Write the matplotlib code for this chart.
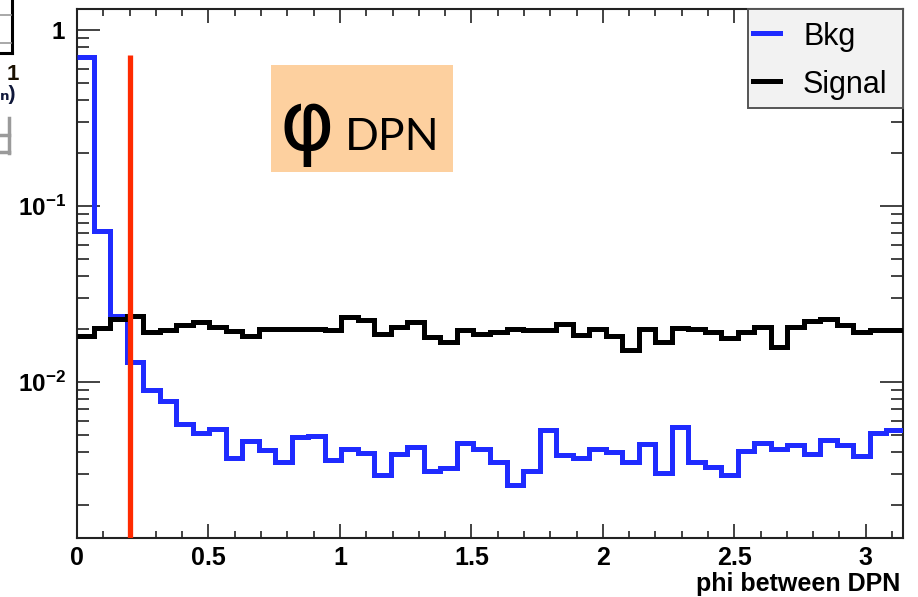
import numpy as np
import matplotlib
matplotlib.use("Agg")
import matplotlib.pyplot as plt
from matplotlib.patches import Rectangle
from matplotlib.lines import Line2D
from matplotlib.ticker import FixedLocator, FixedFormatter, MultipleLocator, LogLocator, NullFormatter

# ---------------- data ----------------
n_bins = 50
x_min, x_max = 0.0, np.pi
bkg = [0.70, 0.072, 0.0236, 0.0129, 0.00893, 0.00773, 0.00577, 0.0051, 0.0054, 0.00368,
       0.0046, 0.00407, 0.00349, 0.00485, 0.00494, 0.00357, 0.00416, 0.00393, 0.00293, 0.00386,
       0.00425, 0.0031, 0.00324, 0.00445, 0.00416, 0.00349, 0.00257, 0.0031, 0.00529, 0.00381,
       0.0037, 0.00416, 0.00398, 0.00349, 0.0044, 0.00302, 0.00552, 0.00349, 0.00327, 0.00293,
       0.00403, 0.00448, 0.00416, 0.00434, 0.00386, 0.00468, 0.00434, 0.00376, 0.0051, 0.00534]
signal = [0.0181, 0.0202, 0.0228, 0.0238, 0.0192, 0.0198, 0.0210, 0.0218, 0.0205, 0.0194,
          0.0181, 0.0199, 0.0199, 0.0199, 0.0199, 0.0197, 0.0233, 0.0225, 0.0188, 0.0205,
          0.0218, 0.0179, 0.0168, 0.0196, 0.0188, 0.0192, 0.0199, 0.0197, 0.0197, 0.0212,
          0.0184, 0.0199, 0.0181, 0.0151, 0.0199, 0.0168, 0.0202, 0.0199, 0.0192, 0.0178,
          0.0192, 0.0205, 0.0158, 0.0205, 0.0221, 0.0228, 0.0210, 0.0192, 0.0197, 0.0197]
cut_value = 0.2
cut_top = 0.72
y_min, y_max = 0.00129, 1.32
xtick_vals = [0, 0.5, 1, 1.5, 2, 2.5, 3]
xtick_labels = ["0", "0.5", "1", "1.5", "2", "2.5", "3"]
ytick_vals = [1e-2, 1e-1, 1]
ytick_labels = [r"$10^{-2}$", r"$10^{-1}$", r"$1$"]
legend_labels = ["Bkg", "Signal"]
x_title = "phi between DPN"

# ---------------- style ----------------
plt.rcParams['mathtext.fontset'] = 'custom'
plt.rcParams['mathtext.rm'] = 'Liberation Sans:bold'
plt.rcParams['mathtext.it'] = 'Liberation Sans:bold'
plt.rcParams['mathtext.bf'] = 'Liberation Sans:bold'
plt.rcParams['font.family'] = ['Liberation Sans', 'DejaVu Sans']

W, H = 918, 597
fig = plt.figure(figsize=(W / 100, H / 100), dpi=100)

def fx(x):
    return x / W

def fy(y):
    return 1 - y / H

ax_l, ax_r, ax_t, ax_b = 77, 903, 9, 538
ax = fig.add_axes([fx(ax_l), fy(ax_b), fx(ax_r - ax_l), (ax_b - ax_t) / H])

blue = '#1f2bff'
red = '#ff2a00'
edges = np.linspace(x_min, x_max, n_bins + 1)

ax.stairs(bkg, edges, baseline=None, color=blue, lw=3.6, zorder=3)
ax.stairs(signal, edges, baseline=None, color='black', lw=3.6, zorder=3)
ax.vlines(cut_value, y_min, cut_top, color=red, lw=3.8, zorder=4)

ax.set_yscale('log')
ax.set_xlim(x_min, x_max)
ax.set_ylim(y_min, y_max)

ax.xaxis.set_major_locator(FixedLocator(xtick_vals))
ax.xaxis.set_major_formatter(FixedFormatter(xtick_labels))
ax.xaxis.set_minor_locator(MultipleLocator(0.1))
ax.yaxis.set_major_locator(FixedLocator(ytick_vals))
ax.yaxis.set_major_formatter(FixedFormatter(ytick_labels))
ax.yaxis.set_minor_locator(LogLocator(base=10, subs=np.arange(2, 10)))
ax.yaxis.set_minor_formatter(NullFormatter())

ax.tick_params(axis='x', which='major', direction='in', top=True, bottom=True,
               length=10, width=1.2, pad=6, labelsize=18, colors='#222222')
ax.tick_params(axis='x', which='minor', direction='in', top=True, bottom=True,
               length=5, width=1.2, colors='#222222')
ax.tick_params(axis='y', which='major', direction='in', left=True, right=True,
               length=16.5, width=1.2, pad=8, labelsize=17.5, colors='#222222')
ax.tick_params(axis='y', which='minor', direction='in', left=True, right=True,
               length=8.5, width=1.2, colors='#222222')
for lab in ax.get_xticklabels() + ax.get_yticklabels():
    lab.set_fontweight('bold')
    lab.set_color('black')

for s in ax.spines.values():
    s.set_linewidth(1.5)
    s.set_color('#222222')

ax.set_xlabel(x_title, loc='right', fontsize=18, fontweight='bold', labelpad=1)
ax.xaxis.label.set_x(0.997)

# ---------------- legend (ROOT-style box) ----------------
lx0, lx1, ly0, ly1 = 748, 903, 9, 108
fig.patches.append(Rectangle((fx(lx0), fy(ly1)), fx(lx1 - lx0), (ly1 - ly0) / H,
                             transform=fig.transFigure, facecolor='#f2f2f2',
                             edgecolor='#555555', lw=1.4, zorder=5))
for lbl, col, ybase, yline in [(legend_labels[0], blue, 45, 33),
                               (legend_labels[1], 'black', 93, 81)]:
    fig.lines.append(Line2D([fx(753), fx(780)], [fy(yline), fy(yline)],
                            transform=fig.transFigure, color=col, lw=3.6, zorder=6))
    fig.text(fx(803), fy(ybase), lbl, fontsize=22, va='baseline', ha='left',
             color='black', zorder=6)

# ---------------- phi_DPN annotation ----------------
fig.patches.append(Rectangle((fx(271), fy(172)), fx(182), 107 / H,
                             transform=fig.transFigure, facecolor='#fdd09f',
                             edgecolor='none', zorder=5))
fig.text(fx(279), fy(150), "\u03c6", fontsize=60, family=['DejaVu Sans'],
         va='baseline', ha='left', color='black', zorder=6)
fig.text(fx(345), fy(150), "DPN", fontsize=32, family=['Lato', 'DejaVu Sans'],
         va='baseline', ha='left', color='black', zorder=6)

# ---------------- fragments of neighbouring slide content ----------------
fig.lines.append(Line2D([fx(0), fx(12)], [fy(53), fy(53)], transform=fig.transFigure,
                        color='black', lw=2.2))
fig.lines.append(Line2D([fx(12), fx(12)], [fy(0), fy(53)], transform=fig.transFigure,
                        color='black', lw=2.2))
fig.lines.append(Line2D([fx(0), fx(11)], [fy(15), fy(15)], transform=fig.transFigure,
                        color='#999999', lw=1.2))
fig.lines.append(Line2D([fx(0), fx(11)], [fy(43), fy(43)], transform=fig.transFigure,
                        color='#999999', lw=1.2))
fig.text(fx(7), fy(80), "1", fontsize=16, fontweight='bold', color='#1a1000',
         va='baseline', ha='left')
fig.text(fx(0), fy(100), "\u2099)", fontsize=15, fontweight='bold', color='#10183a',
         va='baseline', ha='left')
for xs, ys in [([9, 9], [118, 153]), ([0, 9], [135, 135]), ([0, 9], [152, 152])]:
    fig.lines.append(Line2D([fx(v) for v in xs], [fy(v) for v in ys],
                            transform=fig.transFigure, color='#9a9a9a', lw=2.5))

fig.savefig("out.png", dpi=100, facecolor='white')
